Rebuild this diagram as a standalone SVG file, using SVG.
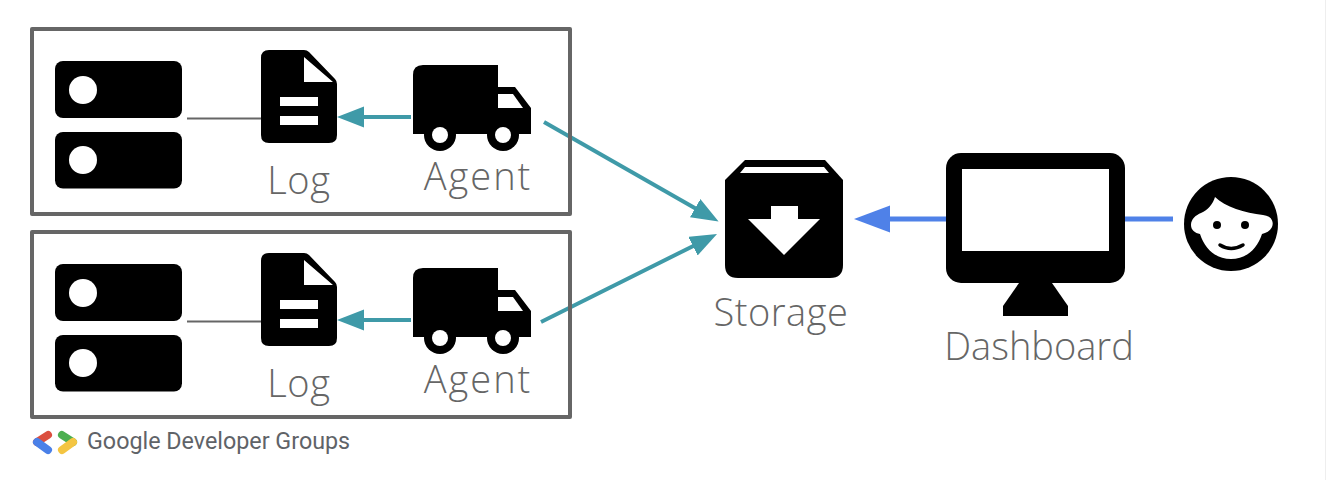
<svg xmlns="http://www.w3.org/2000/svg" width="1326" height="480" viewBox="0 0 1326 480">
<style>
.box{fill:none;stroke:#666;stroke-width:4;stroke-linejoin:round}
.lbl{font-family:"Open Sans","Noto Sans","Liberation Sans",sans-serif;font-weight:300;font-size:38px;fill:#666;text-anchor:middle}
.teal{stroke:#3f9aa8;stroke-width:4;fill:none}
.blue{stroke:#4f81e8;stroke-width:5;fill:none}
.plain{stroke:#666;stroke-width:2;fill:none}
.k{fill:#000}.w{fill:#fff}
</style>
<defs>
<marker id="ht" markerUnits="userSpaceOnUse" markerWidth="28" markerHeight="22" refX="1" refY="10.5" orient="auto"><path d="M0 0L27 10.5L0 21Z" fill="#3f9aa8"/></marker>
<marker id="hb" markerUnits="userSpaceOnUse" markerWidth="37" markerHeight="28" refX="1" refY="13.5" orient="auto"><path d="M0 0L36 13.500L0 27Z" fill="#4f81e8"/></marker>
<g id="server"><rect class="k" x="55" y="61" width="127" height="57" rx="8"/><circle class="w" cx="83" cy="90" r="14"/><rect class="k" x="55" y="132" width="127" height="56.500" rx="8"/><circle class="w" cx="83" cy="160" r="14"/></g>
<g id="doc"><path class="k" d="M269 50H304Q307 50 309 52L335 79Q337 81 337 84V135Q337 143 329 143H269Q261 143 261 135V58Q261 50 269 50Z"/><path class="w" d="M304 57V82H333ZM280 97H318V106H280ZM280 116H318V125H280Z"/></g>
<g id="truck"><path class="k" d="M423 65H498V87H515L531 108V134H413V75Q413 65 423 65Z"/><path class="w" d="M498 94H513L523 108H498Z"/><circle class="k" cx="440" cy="135" r="16"/><circle class="w" cx="440" cy="135" r="8"/><circle class="k" cx="503" cy="135" r="16"/><circle class="w" cx="503" cy="135" r="8"/></g>
</defs>
<rect width="1326" height="480" fill="#fff"/>
<rect x="1325" width="1" height="480" fill="#eee"/>
<g id="connectors">
<path class="plain" d="M187 118.500H261"/>
<path class="plain" d="M187 321.500H261"/>
<path class="teal" d="M411 117H363" marker-end="url(#ht)"/>
<path class="teal" d="M411 320H363" marker-end="url(#ht)"/>
<path class="teal" d="M544 122L696 208.700" marker-end="url(#ht)"/>
<path class="teal" d="M541 322L693.800 245.700" marker-end="url(#ht)"/>
<path class="blue" d="M946 219H889" marker-end="url(#hb)"/>
<path class="blue" d="M1125 219H1173"/>
</g>
<g id="group1"><rect class="box" x="32" y="29" width="538" height="185"/></g>
<g id="group2"><rect class="box" x="32" y="232" width="538" height="185"/></g>
<g id="server1"><use href="#server"/></g>
<g id="log1"><use href="#doc"/><text class="lbl" x="299" y="194" letter-spacing=".7">Log</text></g>
<g id="agent1"><use href="#truck"/><text class="lbl" x="478" y="190" letter-spacing="2">Agent</text></g>
<g id="server2"><use href="#server" y="203"/></g>
<g id="log2"><use href="#doc" y="203"/><text class="lbl" x="299" y="397" letter-spacing=".7">Log</text></g>
<g id="agent2"><use href="#truck" y="203"/><text class="lbl" x="478" y="393" letter-spacing="2">Agent</text></g>
<g id="storage"><path class="k" d="M745 160H825L843 180V265Q843 278 830 278H738Q725 278 725 265V180Z"/><path class="w" d="M740 173L745 167H824L829 173ZM771 206H798V219H820L784 255L748 219H771Z"/><text class="lbl" x="781" y="326" letter-spacing=".5">Storage</text></g>
<g id="dashboard"><rect class="k" x="946" y="153" width="179" height="130" rx="15"/><rect class="w" x="962" y="169" width="147" height="82"/><path class="k" d="M1019 283L1003 306V316H1068V306L1052 283Z"/><text class="lbl" x="1039" y="360">Dashboard</text></g>
<g id="user"><circle class="k" cx="1231" cy="224" r="47"/><path class="w" d="M1215 197C1225 207 1245 213 1263 215C1272 216 1274 222 1272 227C1270 231 1266 233 1262 234C1257 250 1245 259 1231 259C1217 259 1205 250 1200 234C1195 233 1191 230 1191 225C1191 219 1196 215 1201 213C1208 210 1213 204 1215 197Z"/><circle class="k" cx="1217" cy="225" r="4"/><circle class="k" cx="1245" cy="225" r="4"/><path d="M1220 245Q1231 252 1243 245" fill="none" stroke="#000" stroke-width="3.500" stroke-linecap="round"/></g>
<g id="brand"><g fill="none" stroke-width="8" stroke-linecap="round"><path d="M37 442L48 435" stroke="#db4f3f"/><path d="M37 442L48 450" stroke="#4a80e8"/><path d="M62 435L73 442" stroke="#4caf50"/><path d="M62 450L73 442" stroke="#f4c542"/></g><text x="87" y="449" font-family="Roboto,'Liberation Sans',sans-serif" font-size="23.300" fill="#5f6368">Google Developer Groups</text></g>
</svg>
